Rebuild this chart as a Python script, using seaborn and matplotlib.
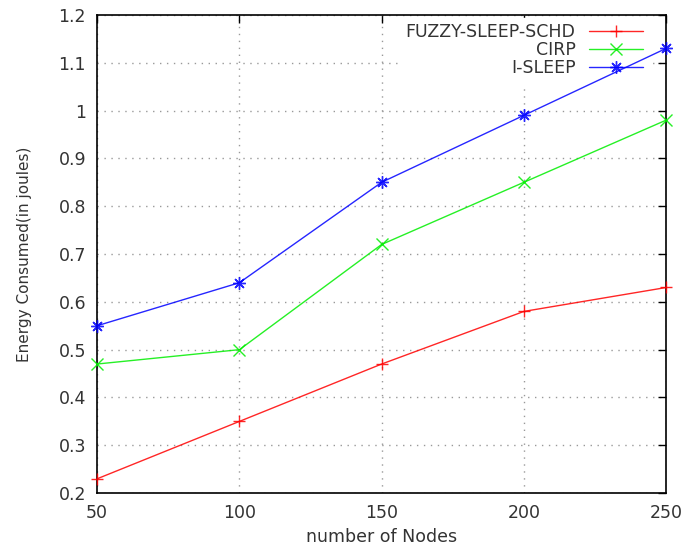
import matplotlib
matplotlib.use("Agg")
import matplotlib.pyplot as plt
import seaborn as sns
import pandas as pd

nodes = [50, 100, 150, 200, 250]
fuzzy = [0.23, 0.35, 0.47, 0.58, 0.63]
cirp = [0.47, 0.50, 0.72, 0.85, 0.98]
isleep = [0.55, 0.64, 0.85, 0.99, 1.13]
series_names = ["FUZZY-SLEEP-SCHD", "CIRP", "I-SLEEP"]
yticks = [0.2, 0.3, 0.4, 0.5, 0.6, 0.7, 0.8, 0.9, 1.0, 1.1, 1.2]
ytick_labels = ["0.2", "0.3", "0.4", "0.5", "0.6", "0.7", "0.8", "0.9", "1", "1.1", "1.2"]
xticks = [50, 100, 150, 200, 250]

df = pd.DataFrame({
    "nodes": nodes * 3,
    "energy": fuzzy + cirp + isleep,
    "series": sum([[n] * len(nodes) for n in series_names], []),
})

sns.set_style("white")
plt.rcParams["font.family"] = ["DejaVu Sans"]

fig = plt.figure(figsize=(6.84, 5.51), dpi=100)
ax = fig.add_axes([0.142, 0.105, 0.832, 0.868])

palette = {"FUZZY-SLEEP-SCHD": "#ff0000", "CIRP": "#00ee00", "I-SLEEP": "#0000ff"}
markers = {"FUZZY-SLEEP-SCHD": "+", "CIRP": "x", "I-SLEEP": (8, 2, 0)}
sns.lineplot(data=df, x="nodes", y="energy", hue="series", style="series",
             palette=palette, markers=markers, dashes=False, ax=ax,
             linewidth=1.0, markersize=9, markeredgewidth=1.0, alpha=0.85)
for ln in ax.lines:
    ln.set_markeredgecolor(ln.get_color())
    ln.set_markerfacecolor(ln.get_color())
    ln.set_zorder(3)
    ln.set_clip_on(False)

ax.set_xlim(50, 250)
ax.set_ylim(0.2, 1.2)
ax.set_xticks(xticks)
ax.set_yticks(yticks)
ax.set_yticklabels(ytick_labels)
ax.tick_params(direction="in", top=True, right=True, length=6, width=1,
               labelsize=12.5, colors="black", labelcolor="#333333", pad=8)
ax.grid(True, linestyle=(0, (1, 4)), color="#999999", linewidth=1)
ax.set_axisbelow(True)
for s in ax.spines.values():
    s.set_visible(True)
    s.set_color("black")
    s.set_linewidth(1.2)

ax.set_xlabel("number of Nodes", fontsize=12.5, color="#333333", labelpad=4)
ax.set_ylabel("Energy Consumed(in joules)", fontsize=11, color="#333333", labelpad=19)

handles, labels = ax.get_legend_handles_labels()
for h in handles:
    h.set_markeredgecolor(h.get_color())
    h.set_markerfacecolor(h.get_color())
leg = ax.legend(handles, labels, loc="upper right", markerfirst=False, frameon=True,
                fontsize=12.5, handlelength=3.1, borderaxespad=0.3, labelspacing=0.0,
                handletextpad=0.8, borderpad=0.3,
                bbox_to_anchor=(0.978, 1.004))
leg.get_frame().set_edgecolor("white")
leg.get_frame().set_facecolor("white")
leg.get_frame().set_alpha(1.0)
leg.set_zorder(1)
for t in leg.get_texts():
    t.set_color("#333333")

fig.savefig("out.png", dpi=100)
